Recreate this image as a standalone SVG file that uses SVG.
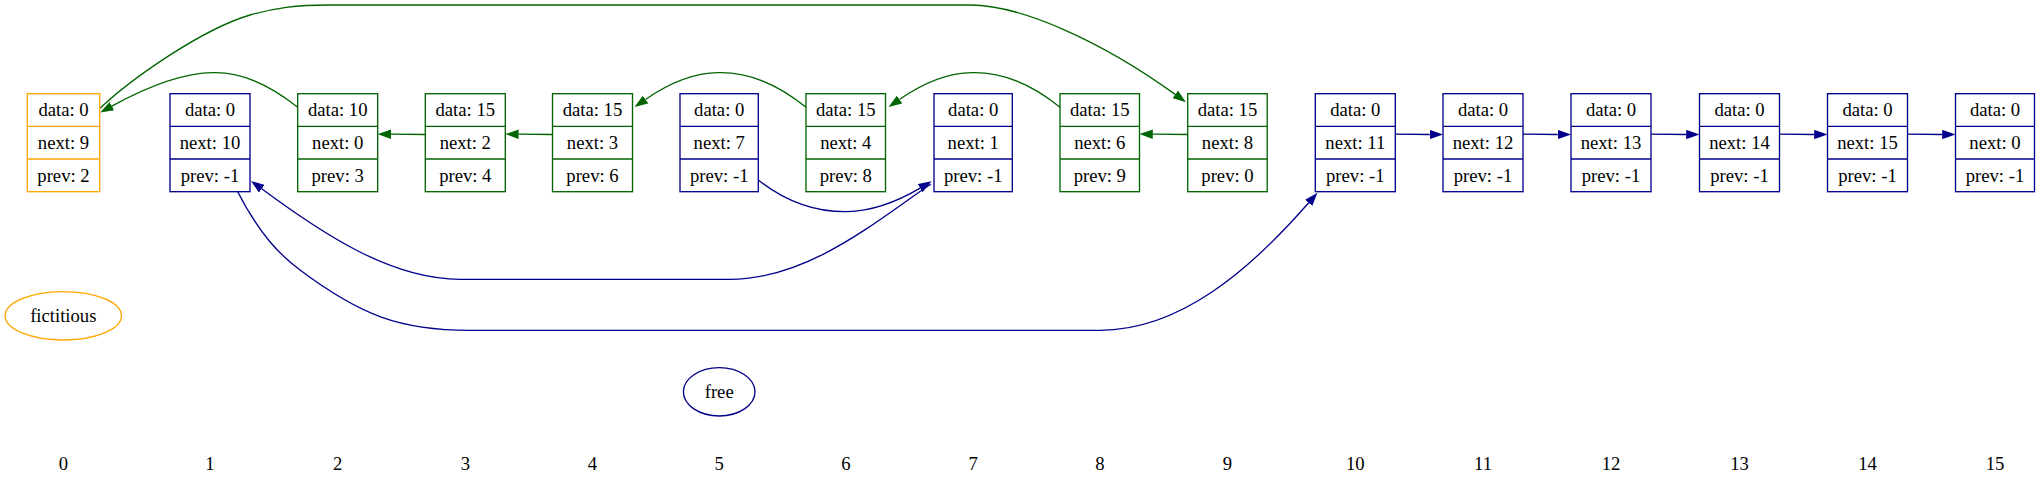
<svg xmlns="http://www.w3.org/2000/svg" width="2040" height="493" viewBox="0 0 2040 493">
<style>
text{font-family:"Liberation Serif","Times New Roman",serif;font-size:18.67px;fill:#000;text-anchor:middle}
.box rect,.box line,ellipse{fill:none;stroke-width:1.33}
.o rect,.o line,ellipse.o{stroke:#ffa500}
.g rect,.g line{stroke:#006400}
.b rect,.b line,ellipse.b{stroke:#00008b}
.eg{fill:none;stroke:#006400;stroke-width:1.33;marker-end:url(#ag)}
.eb{fill:none;stroke:#00008b;stroke-width:1.33;marker-end:url(#ab)}
</style>
<defs>
<marker id="ag" viewBox="0 0 13.3 9.4" refX="0" refY="4.7" markerWidth="13.3" markerHeight="9.4" markerUnits="userSpaceOnUse" orient="auto"><path d="M0,0 L13.3,4.7 L0,9.4 Z" fill="#006400"/></marker>
<marker id="ab" viewBox="0 0 13.3 9.4" refX="0" refY="4.7" markerWidth="13.3" markerHeight="9.4" markerUnits="userSpaceOnUse" orient="auto"><path d="M0,0 L13.3,4.7 L0,9.4 Z" fill="#00008b"/></marker>
</defs>
<rect x="0" y="0" width="2040" height="493" fill="#fff"/>

<g id="connectors">
<path class="eg" d="M100,108.3 C130,80 200,30 250,15 C275,8 295,5 330,5 L970,5 C1020,5 1100,40 1175.2,94.4"/>
<path class="eg" d="M297.7,107.3 C270,85 240,72 213,72.7 C180,73 145,88 111.9,106.1"/>
<path class="eg" d="M806,107.3 C780,86 750,72 718.3,72.7 C690,73 665,86 645.5,99.5"/>
<path class="eg" d="M1060,107.3 C1034,86 1004,72 972,72.7 C944,73 919,86 899.5,99.5"/>
<path class="eg" d="M425.3,134.5 L391,134.2"/>
<path class="eg" d="M552.5,134.5 L518.6,134.2"/>
<path class="eg" d="M1187.7,134.5 L1152.8,134.2"/>
<path class="eb" d="M758.3,180 C790,205 820,212 846.7,211.7 C870,211 895,203 920.1,188.1"/>
<path class="eb" d="M931,184 C880,218 810,279.3 730,279.3 L460,279.3 C390,279.3 320,232 261.7,188.8"/>
<path class="eb" d="M237.7,191.7 C260,235 280,255 300,270 C360,315 400,330.3 470,330.3 L1100,330.3 C1180,330.3 1250,270 1308.7,202.8"/>
<path class="eb" d="M1395.3,134.2 L1429.7,134.5"/>
<path class="eb" d="M1523,134.2 L1557.7,134.5"/>
<path class="eb" d="M1651,134.2 L1686.2,134.5"/>
<path class="eb" d="M1779.5,134.2 L1814.2,134.5"/>
<path class="eb" d="M1907.5,134.2 L1942.2,134.5"/>
</g>

<g id="node0" class="box o"><rect x="27.3" y="93.7" width="72.4" height="98"/><line x1="27.3" y1="126.3" x2="99.7" y2="126.3"/><line x1="27.3" y1="159" x2="99.7" y2="159"/><text x="63.5" y="116.3">data: 0</text><text x="63.5" y="149">next: 9</text><text x="63.5" y="181.6">prev: 2</text></g>
<g id="node1" class="box b"><rect x="170" y="93.7" width="80" height="98"/><line x1="170" y1="126.3" x2="250" y2="126.3"/><line x1="170" y1="159" x2="250" y2="159"/><text x="210" y="116.3">data: 0</text><text x="210" y="149">next: 10</text><text x="210" y="181.6">prev: -1</text></g>
<g id="node2" class="box g"><rect x="297.7" y="93.7" width="80" height="98"/><line x1="297.7" y1="126.3" x2="377.7" y2="126.3"/><line x1="297.7" y1="159" x2="377.7" y2="159"/><text x="337.7" y="116.3">data: 10</text><text x="337.7" y="149">next: 0</text><text x="337.7" y="181.6">prev: 3</text></g>
<g id="node3" class="box g"><rect x="425.3" y="93.7" width="80" height="98"/><line x1="425.3" y1="126.3" x2="505.3" y2="126.3"/><line x1="425.3" y1="159" x2="505.3" y2="159"/><text x="465.3" y="116.3">data: 15</text><text x="465.3" y="149">next: 2</text><text x="465.3" y="181.6">prev: 4</text></g>
<g id="node4" class="box g"><rect x="552.5" y="93.7" width="80" height="98"/><line x1="552.5" y1="126.3" x2="632.5" y2="126.3"/><line x1="552.5" y1="159" x2="632.5" y2="159"/><text x="592.5" y="116.3">data: 15</text><text x="592.5" y="149">next: 3</text><text x="592.5" y="181.6">prev: 6</text></g>
<g id="node5" class="box b"><rect x="680" y="93.7" width="78.3" height="98"/><line x1="680" y1="126.3" x2="758.3" y2="126.3"/><line x1="680" y1="159" x2="758.3" y2="159"/><text x="719.2" y="116.3">data: 0</text><text x="719.2" y="149">next: 7</text><text x="719.2" y="181.6">prev: -1</text></g>
<g id="node6" class="box g"><rect x="806" y="93.7" width="79.5" height="98"/><line x1="806" y1="126.3" x2="885.5" y2="126.3"/><line x1="806" y1="159" x2="885.5" y2="159"/><text x="845.8" y="116.3">data: 15</text><text x="845.8" y="149">next: 4</text><text x="845.8" y="181.6">prev: 8</text></g>
<g id="node7" class="box b"><rect x="934" y="93.7" width="78.3" height="98"/><line x1="934" y1="126.3" x2="1012.3" y2="126.3"/><line x1="934" y1="159" x2="1012.3" y2="159"/><text x="973.2" y="116.3">data: 0</text><text x="973.2" y="149">next: 1</text><text x="973.2" y="181.6">prev: -1</text></g>
<g id="node8" class="box g"><rect x="1060" y="93.7" width="79.5" height="98"/><line x1="1060" y1="126.3" x2="1139.5" y2="126.3"/><line x1="1060" y1="159" x2="1139.5" y2="159"/><text x="1099.8" y="116.3">data: 15</text><text x="1099.8" y="149">next: 6</text><text x="1099.8" y="181.6">prev: 9</text></g>
<g id="node9" class="box g"><rect x="1187.7" y="93.7" width="79.5" height="98"/><line x1="1187.7" y1="126.3" x2="1267.2" y2="126.3"/><line x1="1187.7" y1="159" x2="1267.2" y2="159"/><text x="1227.5" y="116.3">data: 15</text><text x="1227.5" y="149">next: 8</text><text x="1227.5" y="181.6">prev: 0</text></g>
<g id="node10" class="box b"><rect x="1315.3" y="93.7" width="80" height="98"/><line x1="1315.3" y1="126.3" x2="1395.3" y2="126.3"/><line x1="1315.3" y1="159" x2="1395.3" y2="159"/><text x="1355.3" y="116.3">data: 0</text><text x="1355.3" y="149">next: 11</text><text x="1355.3" y="181.6">prev: -1</text></g>
<g id="node11" class="box b"><rect x="1443" y="93.7" width="80" height="98"/><line x1="1443" y1="126.3" x2="1523" y2="126.3"/><line x1="1443" y1="159" x2="1523" y2="159"/><text x="1483" y="116.3">data: 0</text><text x="1483" y="149">next: 12</text><text x="1483" y="181.6">prev: -1</text></g>
<g id="node12" class="box b"><rect x="1571" y="93.7" width="80" height="98"/><line x1="1571" y1="126.3" x2="1651" y2="126.3"/><line x1="1571" y1="159" x2="1651" y2="159"/><text x="1611" y="116.3">data: 0</text><text x="1611" y="149">next: 13</text><text x="1611" y="181.6">prev: -1</text></g>
<g id="node13" class="box b"><rect x="1699.5" y="93.7" width="80" height="98"/><line x1="1699.5" y1="126.3" x2="1779.5" y2="126.3"/><line x1="1699.5" y1="159" x2="1779.5" y2="159"/><text x="1739.5" y="116.3">data: 0</text><text x="1739.5" y="149">next: 14</text><text x="1739.5" y="181.6">prev: -1</text></g>
<g id="node14" class="box b"><rect x="1827.5" y="93.7" width="80" height="98"/><line x1="1827.5" y1="126.3" x2="1907.5" y2="126.3"/><line x1="1827.5" y1="159" x2="1907.5" y2="159"/><text x="1867.5" y="116.3">data: 0</text><text x="1867.5" y="149">next: 15</text><text x="1867.5" y="181.6">prev: -1</text></g>
<g id="node15" class="box b"><rect x="1955.5" y="93.7" width="79" height="98"/><line x1="1955.5" y1="126.3" x2="2034.5" y2="126.3"/><line x1="1955.5" y1="159" x2="2034.5" y2="159"/><text x="1995" y="116.3">data: 0</text><text x="1995" y="149">next: 0</text><text x="1995" y="181.6">prev: -1</text></g>

<g id="fictitious"><ellipse class="o" cx="63.3" cy="315.8" rx="58.2" ry="24.2"/><text x="63.3" y="322.2">fictitious</text></g>
<g id="free"><ellipse class="b" cx="719.2" cy="391.8" rx="35.8" ry="24.2"/><text x="719.2" y="398.2">free</text></g>

<g id="indices">
<text x="63.5" y="470">0</text>
<text x="210" y="470">1</text>
<text x="337.7" y="470">2</text>
<text x="465.3" y="470">3</text>
<text x="592.5" y="470">4</text>
<text x="719.2" y="470">5</text>
<text x="845.8" y="470">6</text>
<text x="973.2" y="470">7</text>
<text x="1099.8" y="470">8</text>
<text x="1227.5" y="470">9</text>
<text x="1355.3" y="470">10</text>
<text x="1483" y="470">11</text>
<text x="1611" y="470">12</text>
<text x="1739.5" y="470">13</text>
<text x="1867.5" y="470">14</text>
<text x="1995" y="470">15</text>
</g>
</svg>
